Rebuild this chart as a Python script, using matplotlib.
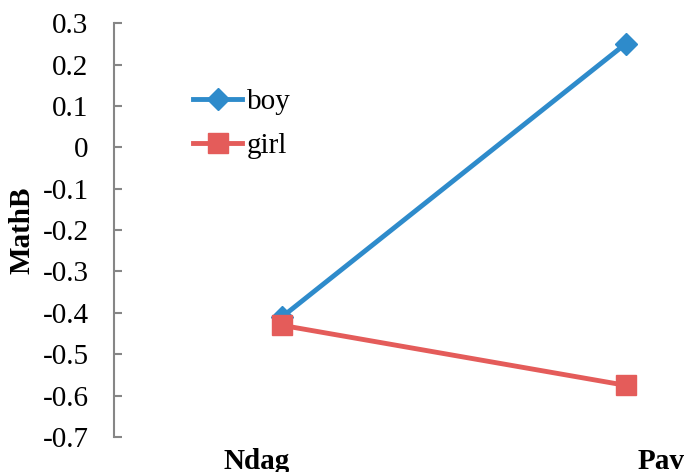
import matplotlib.pyplot as plt

plt.rcParams['font.family'] = ['Liberation Serif', 'DejaVu Serif']

categories = ['Ndag', 'Pav']
boy = [-0.41, 0.25]
girl = [-0.43, -0.575]
ytick_vals = [-0.7, -0.6, -0.5, -0.4, -0.3, -0.2, -0.1, 0, 0.1, 0.2, 0.3]
ytick_labels = ['-0.7', '-0.6', '-0.5', '-0.4', '-0.3', '-0.2', '-0.1', '0', '0.1', '0.2', '0.3']

fig = plt.figure(figsize=(6.84, 4.72), dpi=100)
ax = fig.add_axes([0.166, 0.074, 0.834, 0.877])

x = list(range(len(categories)))
ax.plot(x, boy, color='#2E8BCB', lw=3.5, marker='D', ms=11, label='boy')
ax.plot(x, girl, color='#E45C5A', lw=3.5, marker='s', ms=14, label='girl')

ax.set_ylim(-0.7, 0.3)
ax.set_xlim(-0.49, 1.17)
ax.set_yticks(ytick_vals)
ax.set_yticklabels(ytick_labels, fontsize=21)
ax.tick_params(axis='y', direction='in', length=6, width=1.5, color='#868686', pad=18)
ax.set_xticks([])

for s in ['top', 'right', 'bottom']:
    ax.spines[s].set_visible(False)
ax.spines['left'].set_color('#868686')
ax.spines['left'].set_linewidth(1.5)

ax.set_ylabel('MathB', fontsize=21, fontweight='bold', labelpad=5)

# 类别标签放在坐标轴下方
offsets = [-25, 35]
for i, name in enumerate(categories):
    ax.annotate(name, xy=(i, -0.7), xycoords='data', xytext=(offsets[i], -24),
                textcoords='offset pixels', ha='center', va='center',
                fontsize=21, fontweight='bold', annotation_clip=False)

leg = ax.legend(loc='upper left', bbox_to_anchor=(0.139, 0.842), frameon=False,
                fontsize=21, handlelength=1.7, handletextpad=0.15,
                labelspacing=0.6, borderaxespad=0, borderpad=0)

fig.savefig('out.png', dpi=100)
